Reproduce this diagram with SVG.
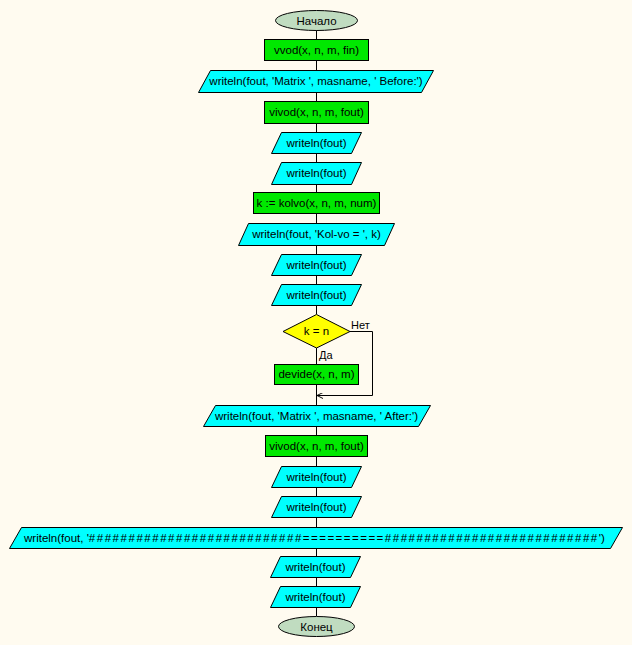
<svg xmlns="http://www.w3.org/2000/svg" width="632" height="645" viewBox="0 0 632 645">
<defs>
<style>
text{font-family:"Liberation Sans",Arial,sans-serif;font-size:11.5px;fill:#000;text-anchor:middle}
.lbl{font-size:11px;text-anchor:start}
.term{fill:#c0dcc0;stroke:#000;stroke-width:1}
.proc{fill:#00e800;stroke:#000;stroke-width:1}
.io{fill:#00ffff;stroke:#000;stroke-width:1}
.dec{fill:#ffff00;stroke:#000;stroke-width:1}
.con{stroke:#000;stroke-width:1;fill:none}
</style>
<marker id="arr" viewBox="0 0 10 10" refX="10" refY="5" markerWidth="6" markerHeight="6" markerUnits="userSpaceOnUse" orient="auto">
<path d="M0,0 L10,5 L0,10" fill="none" stroke="#000" stroke-width="1.6"/>
</marker>
</defs>
<rect width="632" height="645" fill="#fffbf0"/>
<g id="connectors">
<path class="con" d="M316.5,30V39M316.5,60V70M316.5,92V101M316.5,123V132M316.5,153V162M316.5,184V192M316.5,213V223M316.5,245V254M316.5,275V284M316.5,305V314M316.5,348V364M316.5,384V405M316.5,426V435M316.5,456V466M316.5,487V496M316.5,517V527M316.5,548V556M316.5,577V586M316.5,607V616"/>
<path class="con" d="M350,331.5H372.5V395.5H317" marker-end="url(#arr)"/>
<text class="lbl" x="351" y="329">Нет</text>
<text class="lbl" x="319" y="359">Да</text>
</g>
<g id="start"><ellipse class="term" cx="316.5" cy="20.5" rx="41" ry="10"/><text x="316.5" y="24.5">Начало</text></g>
<g id="vvod"><rect class="proc" x="264.5" y="39.5" width="104" height="21"/><text x="316.5" y="54">vvod(x, n, m, fin)</text></g>
<g id="wr_before"><polygon class="io" points="210.5,70.5 433.5,70.5 421.5,92.5 198.5,92.5"/><text x="316" y="85">writeln(fout, 'Matrix ', masname, ' Before:')</text></g>
<g id="vivod1"><rect class="proc" x="264.5" y="101.5" width="104" height="22"/><text x="316.5" y="116">vivod(x, n, m, fout)</text></g>
<g id="wr1"><polygon class="io" points="281.5,132.5 361.5,132.5 351.5,153.5 271.5,153.5"/><text x="316.5" y="146.5">writeln(fout)</text></g>
<g id="wr2"><polygon class="io" points="281.5,162.5 361.5,162.5 351.5,184.5 271.5,184.5"/><text x="316.5" y="177">writeln(fout)</text></g>
<g id="kolvo"><rect class="proc" x="253.5" y="192.5" width="126" height="21"/><text x="316.5" y="206.5">k := kolvo(x, n, m, num)</text></g>
<g id="wr_kolvo"><polygon class="io" points="248.5,223.5 394.5,223.5 384.5,245.5 238.5,245.5"/><text x="316.5" y="238">writeln(fout, 'Kol-vo = ', k)</text></g>
<g id="wr3"><polygon class="io" points="281.5,254.5 361.5,254.5 351.5,275.5 271.5,275.5"/><text x="316.5" y="268.5">writeln(fout)</text></g>
<g id="wr4"><polygon class="io" points="281.5,284.5 361.5,284.5 351.5,305.5 271.5,305.5"/><text x="316.5" y="298.5">writeln(fout)</text></g>
<g id="cond"><polygon class="dec" points="316.5,314.5 350,331.5 316.5,348 283,331.5"/><text x="316.5" y="335">k = n</text></g>
<g id="devide"><rect class="proc" x="274.5" y="364.5" width="84" height="20"/><text x="316.5" y="378">devide(x, n, m)</text></g>
<g id="wr_after"><polygon class="io" points="215.5,405.5 430.5,405.5 418.5,426.5 203.5,426.5"/><text x="316.5" y="419.5">writeln(fout, 'Matrix ', masname, ' After:')</text></g>
<g id="vivod2"><rect class="proc" x="265.5" y="435.5" width="102" height="21"/><text x="316.5" y="449.5">vivod(x, n, m, fout)</text></g>
<g id="wr5"><polygon class="io" points="281.5,466.5 361.5,466.5 351.5,487.5 271.5,487.5"/><text x="316.5" y="480.5">writeln(fout)</text></g>
<g id="wr6"><polygon class="io" points="281.5,496.5 361.5,496.5 351.5,517.5 271.5,517.5"/><text x="316.5" y="510.5">writeln(fout)</text></g>
<g id="wr_long"><polygon class="io" points="21.5,527.5 622.5,527.5 610.5,548.5 9.5,548.5"/><text x="24" y="541.5" style="text-anchor:start">writeln(fout, '<tspan letter-spacing="1.53">###########################</tspan><tspan letter-spacing="1.48">==========</tspan><tspan letter-spacing="1.53">###########################</tspan>')</text></g>
<g id="wr7"><polygon class="io" points="280.5,556.5 360.5,556.5 350.5,577.5 270.5,577.5"/><text x="315.5" y="570.5">writeln(fout)</text></g>
<g id="wr8"><polygon class="io" points="280.5,586.5 360.5,586.5 350.5,607.5 270.5,607.5"/><text x="315.5" y="600.5">writeln(fout)</text></g>
<g id="end"><ellipse class="term" cx="316.5" cy="626.5" rx="38" ry="10"/><text x="316.5" y="630.5">Конец</text></g>
</svg>
